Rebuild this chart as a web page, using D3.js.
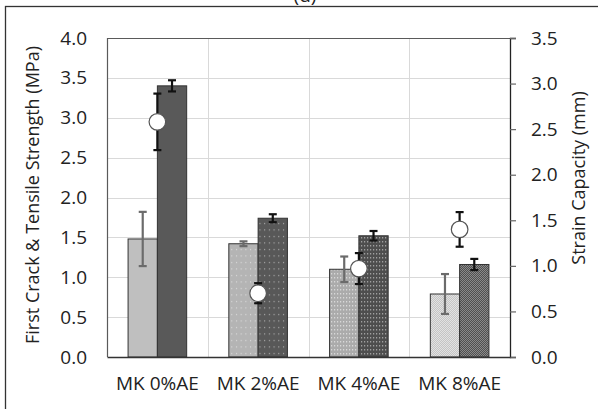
<!DOCTYPE html>
<html>
<head>
<meta charset="utf-8">
<script src="https://cdn.jsdelivr.net/npm/d3@7"></script>
<style>
  html, body { margin: 0; padding: 0; background: #fff; }
  svg { display: block; }
  text { font-family: "Open Sans", "Noto Sans", sans-serif; fill: #222; }
</style>
</head>
<body>
<svg id="chart" width="598" height="409"></svg>
<script>
// Mixes and measured properties
const categories = ["MK 0%AE", "MK 2%AE", "MK 4%AE", "MK 8%AE"];
const firstCrack = [1.48, 1.42, 1.10, 0.79];       // MPa
const firstCrackErr = [0.34, 0.03, 0.16, 0.25];
const tensile = [3.40, 1.74, 1.52, 1.16];          // MPa
const tensileErr = [0.07, 0.05, 0.06, 0.07];
const strain = [2.58, 0.70, 0.97, 1.40];           // mm (right axis)
const strainErr = [0.31, 0.11, 0.17, 0.19];
const leftTicks = [0, 0.5, 1, 1.5, 2, 2.5, 3, 3.5, 4];
const rightTicks = [0, 0.5, 1, 1.5, 2, 2.5, 3, 3.5];

const svg = d3.select("#chart");
const plot = { left: 107, right: 510, top: 38, bottom: 357 };

const x = d3.scaleBand().domain(categories).range([plot.left, plot.right]).padding(0);
const inner = d3.scaleBand().domain(["fc", "ts"]).range([0, 58.6]).padding(0);
const groupOffset = (x.bandwidth() - 58.6) / 2;
const yL = d3.scaleLinear().domain([0, 4]).range([plot.bottom, plot.top]);
const yR = d3.scaleLinear().domain([0, 3.5]).range([plot.bottom, plot.top]);

// ---- fill patterns for the bars ----
const defs = svg.append("defs");
function pat(id, w, h, base, cells) {
  const p = defs.append("pattern").attr("id", id).attr("patternUnits", "userSpaceOnUse")
    .attr("width", w).attr("height", h);
  p.append("rect").attr("width", w).attr("height", h).attr("fill", base);
  cells.forEach(c => p.append("rect").attr("x", c[0]).attr("y", c[1])
    .attr("width", c[2]).attr("height", c[3]).attr("fill", c[4]));
  return `url(#${id})`;
}
const fills = [
  ["#bfbfbf", "#595959"],
  [pat("dotL", 4.7, 6.5, "#b4b4b4", [[1, 2, 1, 1, "#e6e6e6"]]),
   pat("dotD", 4.7, 6.5, "#585858", [[1, 2, 1, 1, "#c8c8c8"]])],
  [pat("gridL", 3, 4, "#ababab", [[1, 1, 1.2, 1.5, "#d8d8d8"]]),
   pat("gridD", 3, 4, "#4e4e4e", [[1, 1, 1.2, 1.5, "#a0a0a0"]])],
  [pat("meshL", 2, 2, "#c4c4c4", [[0, 0, 1, 1, "#e2e2e2"], [1, 1, 1, 1, "#e2e2e2"]]),
   pat("meshD", 2, 2, "#505050", [[0, 0, 1, 1, "#8a8a8a"], [1, 1, 1, 1, "#8a8a8a"]])]
];

// ---- outer frame and panel label ----
svg.append("rect").attr("x", 5.5).attr("y", 6.5).attr("width", 600).attr("height", 410)
  .attr("fill", "none").attr("stroke", "#333").attr("stroke-width", 1.3);
svg.append("text").attr("x", 305).attr("y", 1.5).attr("text-anchor", "middle")
  .attr("font-size", 19).text("(d)");

// ---- gridlines ----
const grid = svg.append("g").attr("stroke", "#d9d9d9").attr("stroke-width", 1);
grid.selectAll("line.h").data(leftTicks.filter(t => t > 0 && t < 4)).join("line")
  .attr("x1", plot.left).attr("x2", plot.right)
  .attr("y1", d => Math.round(yL(d)) + 0.5).attr("y2", d => Math.round(yL(d)) + 0.5);
grid.selectAll("line.v").data(categories.slice(1)).join("line")
  .attr("x1", d => Math.round(x(d)) + 0.5).attr("x2", d => Math.round(x(d)) + 0.5)
  .attr("y1", plot.top).attr("y2", plot.bottom);

// plot area border (top and left)
svg.append("path")
  .attr("d", `M${plot.left + 0.5},${plot.bottom} V${plot.top + 0.5} H${plot.right}`)
  .attr("fill", "none").attr("stroke", "#5a5a5a").attr("stroke-width", 1.2);

// ---- bars ----
const barG = svg.append("g");
categories.forEach((c, i) => {
  const x0 = x(c) + groupOffset;
  [["fc", firstCrack[i]], ["ts", tensile[i]]].forEach(([k, v], j) => {
    barG.append("rect")
      .attr("x", x0 + inner(k)).attr("y", yL(v))
      .attr("width", inner.bandwidth()).attr("height", yL(0) - yL(v))
      .attr("fill", fills[i][j]).attr("stroke", "#333").attr("stroke-width", 1);
  });
});

// ---- error bars ----
function errBar(g, cx, y, v, e, color, w) {
  const t = y(v + e), b = y(v - e);
  g.append("line").attr("x1", cx).attr("x2", cx).attr("y1", t).attr("y2", b)
    .attr("stroke", color).attr("stroke-width", w);
  [t, b].forEach(yy => g.append("line").attr("x1", cx - 4).attr("x2", cx + 4)
    .attr("y1", yy).attr("y2", yy).attr("stroke", color).attr("stroke-width", w));
}
const errG = svg.append("g");
categories.forEach((c, i) => {
  const x0 = x(c) + groupOffset;
  errBar(errG, x0 + inner("fc") + inner.bandwidth() / 2, yL, firstCrack[i], firstCrackErr[i], "#6b6b6b", 2.2);
  errBar(errG, x0 + inner("ts") + inner.bandwidth() / 2, yL, tensile[i], tensileErr[i], "#111", 2.2);
});

// ---- strain capacity markers (right axis) ----
categories.forEach((c, i) => {
  const cx = x(c) + x.bandwidth() / 2;
  errBar(errG, cx, yR, strain[i], strainErr[i], "#111", 2.2);
});
svg.append("g").selectAll("circle").data(strain).join("circle")
  .attr("cx", (d, i) => x(categories[i]) + x.bandwidth() / 2)
  .attr("cy", d => yR(d)).attr("r", 8.3)
  .attr("fill", "#fff").attr("stroke", "#555").attr("stroke-width", 1.2);

// ---- axes ----
const fmt = d3.format(".1f");
const leftAxis = svg.append("g").attr("transform", `translate(${plot.left},0)`)
  .call(d3.axisLeft(yL).tickValues(leftTicks).tickFormat(fmt).tickSize(0).tickPadding(20));
leftAxis.select(".domain").remove();

const rightAxis = svg.append("g").attr("transform", `translate(${plot.right},0)`)
  .call(d3.axisRight(yR).tickValues(rightTicks).tickFormat(fmt).tickSizeOuter(0).tickSize(6).tickPadding(15));
rightAxis.select(".domain").attr("stroke", "#222").attr("stroke-width", 1.3);
rightAxis.selectAll(".tick line").attr("stroke", "#666").attr("stroke-width", 1.2);

const bottomAxis = svg.append("g").attr("transform", `translate(0,${plot.bottom})`)
  .call(d3.axisBottom(x).tickSize(0).tickPadding(20));
bottomAxis.select(".domain").attr("stroke", "#333").attr("stroke-width", 1.3);

svg.selectAll(".tick text").attr("font-size", 19).attr("fill", "#222")
  .attr("font-family", "'Open Sans', 'Noto Sans', sans-serif");

// ---- axis titles ----
svg.append("text").attr("transform", "translate(33,195) rotate(-90)")
  .attr("text-anchor", "middle").attr("dy", "0.35em").attr("font-size", 18)
  .text("First Crack & Tensile Strength (MPa)");
svg.append("text").attr("transform", "translate(579,178) rotate(-90)")
  .attr("text-anchor", "middle").attr("dy", "0.35em").attr("font-size", 18)
  .text("Strain Capacity (mm)");
</script>
</body>
</html>
